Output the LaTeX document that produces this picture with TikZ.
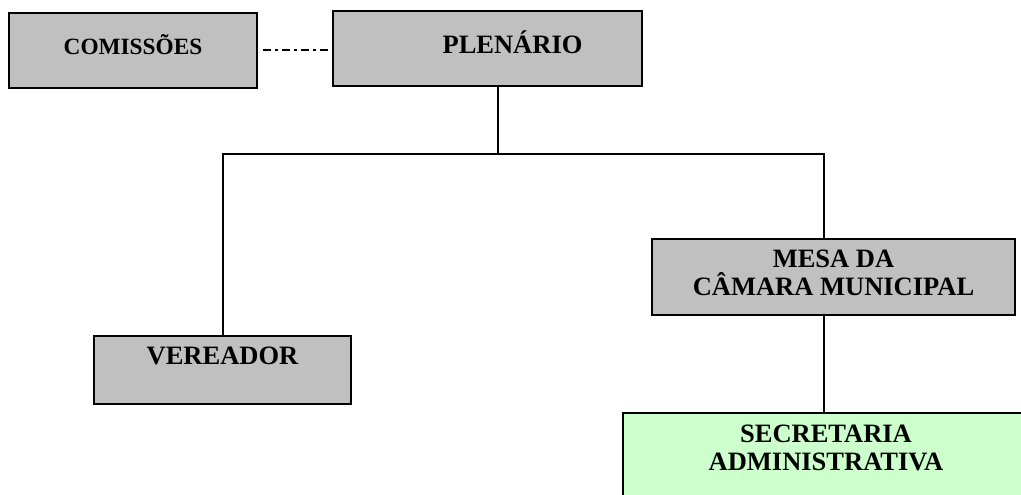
\documentclass[tikz,border=0pt]{standalone}
\usepackage{fontspec}
\setmainfont{Liberation Serif}
\definecolor{boxgray}{HTML}{C0C0C0}
\definecolor{boxgreen}{HTML}{CCFFCC}
\tikzset{
  orgbox/.style={draw=black, line width=2pt, fill=boxgray, rectangle, inner sep=0pt,
    align=center, font=\bfseries\fontsize{26.5}{28}\selectfont, text height=18pt},
  conn/.style={line width=2pt, black},
  dashdotline/.style={line width=2pt, black, dash pattern=on 8pt off 4pt on 3pt off 4pt}
}
\begin{document}
\begin{tikzpicture}[x=1pt, y=-1pt]
\useasboundingbox (0,0) rectangle (1021,495);
\clip (0,0) rectangle (1021,495);
\node[orgbox, minimum width=248pt, minimum height=75pt, text depth=9pt,
      font=\bfseries\fontsize{23.3}{28}\selectfont] (com) at (133,50.5) {COMISSÕES};
\node[orgbox, minimum width=309pt, minimum height=75pt, text depth=7pt] (plen) at (487.5,48.5) {\hspace*{50pt}PLENÁRIO};
\node[orgbox, minimum width=257pt, minimum height=68pt, text depth=30pt] (ver) at (222.5,370) {VEREADOR};
\node[orgbox, minimum width=363pt, minimum height=76pt, text height=46pt, text depth=10pt] (mesa) at (833.5,277) {MESA DA\\CÂMARA MUNICIPAL};
\node[orgbox, fill=boxgreen, minimum width=406pt, minimum height=116pt, text height=46pt, text depth=48pt] (sec) at (826,471) {SECRETARIA\\ADMINISTRATIVA};
\coordinate (jm) at (498,154);
\coordinate (jl) at (223,154);
\coordinate (jr) at (824,154);
\draw[dashdotline] ([xshift=5pt]com.east) -- (com.east -| plen.west);
\draw[conn] (plen.south -| jm) -- (jm);
\draw[conn] (jl |- ver.north) -- (jl) -- (jr) -- (jr |- mesa.north);
\draw[conn] (mesa.south -| jr) -- (jr |- sec.north);
\end{tikzpicture}
\end{document}
